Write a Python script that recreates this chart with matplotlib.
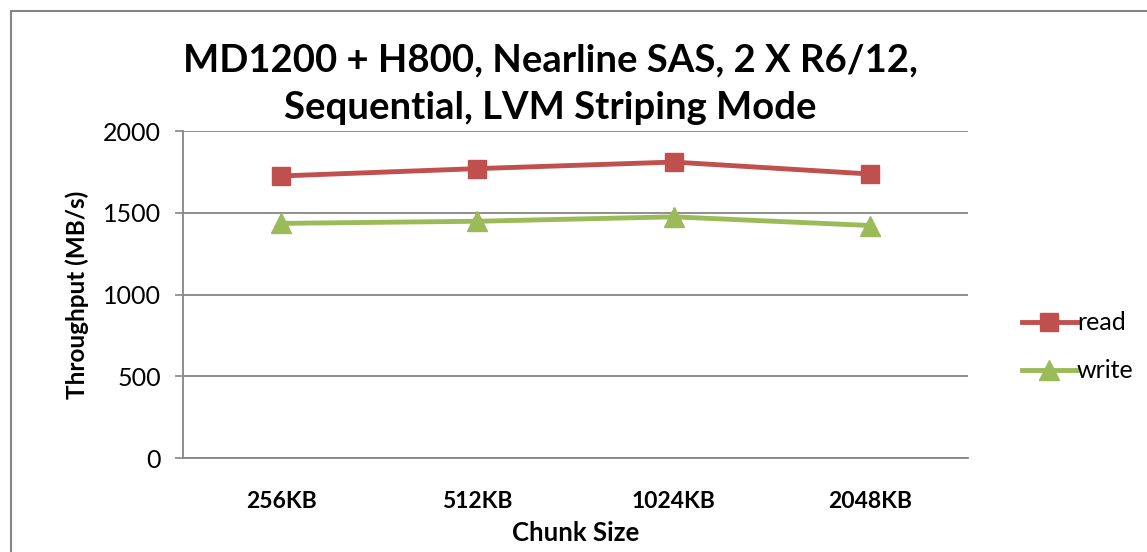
import matplotlib.pyplot as plt
from matplotlib.patches import Rectangle

chunk_sizes = ["256KB", "512KB", "1024KB", "2048KB"]
read_mbs = [1725, 1770, 1810, 1737]
write_mbs = [1435, 1448, 1475, 1422]

plt.rcParams['font.family'] = ['Lato', 'DejaVu Sans']

fig = plt.figure(figsize=(11.47, 5.52), dpi=100)
ax = fig.add_axes([183/1147, 1 - 458/552, (968 - 183)/1147, (458 - 131)/552])

# outer chart border
fig.patches.append(Rectangle((11/1147, -0.1), 1.1, 1.1 - 11/552, transform=fig.transFigure,
                             fill=False, edgecolor="#868686", linewidth=1.5))

x = range(len(chunk_sizes))
ax.plot(x, read_mbs, color="#C0504D", linewidth=3.5, marker="s", markersize=13, label="read")
ax.plot(x, write_mbs, color="#9BBB59", linewidth=3.5, marker="^", markersize=14, label="write")

ax.set_xlim(-0.5, 3.5)
ax.set_ylim(0, 2000)
ax.set_yticks([0, 500, 1000, 1500, 2000])
ax.set_xticks(list(x))
ax.set_xticklabels(chunk_sizes, fontweight="bold", fontsize=16.5)
ax.tick_params(axis="y", labelsize=18, length=6, width=1.2, color="#868686", pad=10)
ax.tick_params(axis="x", length=0, pad=24)
ax.grid(axis="y", color="#868686", linewidth=1.3)
ax.set_axisbelow(True)
for s in ["top", "right"]:
    ax.spines[s].set_visible(False)
ax.spines["left"].set_color("#868686")
ax.spines["bottom"].set_color("#868686")
ax.spines["left"].set_linewidth(1.3)
ax.spines["bottom"].set_linewidth(1.3)

ax.set_xlabel("Chunk Size", fontweight="bold", fontsize=18.5, labelpad=6)
ax.set_ylabel("Throughput (MB/s)", fontweight="bold", fontsize=17.5, labelpad=10)
fig.text(550/1147, 1 - 84/552, "MD1200 + H800, Nearline SAS, 2 X R6/12,\nSequential, LVM Striping Mode",
         ha="center", va="center", fontsize=27.5, fontweight="bold", linespacing=1.5)

ax.legend(loc="center left", bbox_to_anchor=(1.04, 0.34), frameon=False, fontsize=18,
          handlelength=2.2, handletextpad=0.0, labelspacing=1.0)

fig.savefig("out.png", dpi=100)
